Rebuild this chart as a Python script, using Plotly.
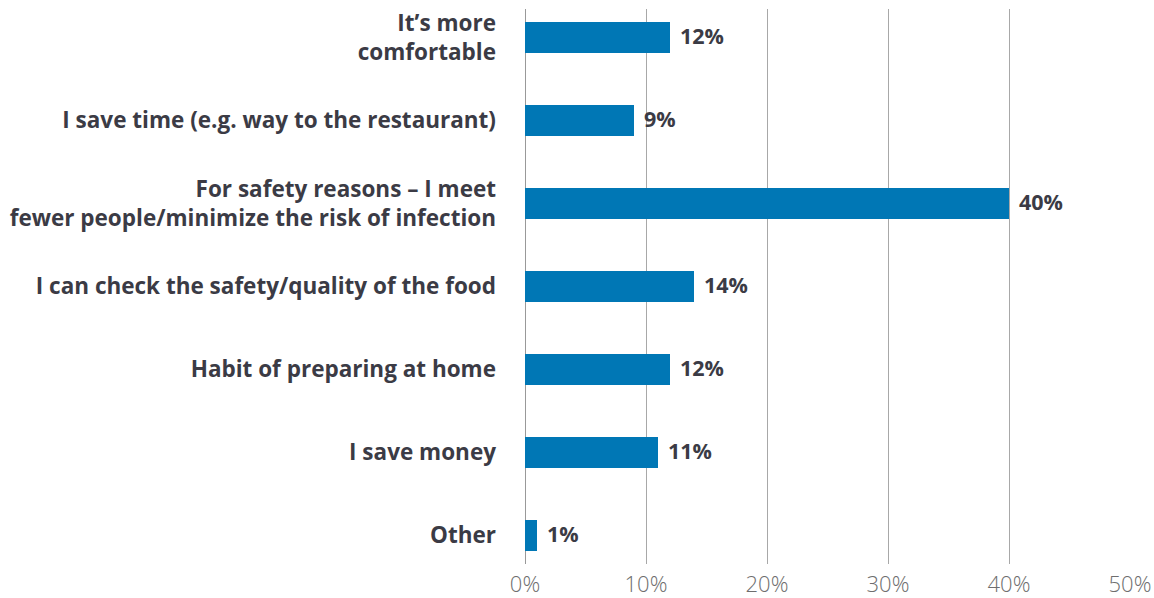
import plotly.graph_objects as go

# Survey reasons for cooking at home instead of ordering / eating out
categories = [
    "It’s more<br>comfortable",
    "I save time (e.g. way to the restaurant)",
    "For safety reasons – I meet<br>fewer people/minimize the risk of infection",
    "I can check the safety/quality of the food",
    "Habit of preparing at home",
    "I save money",
    "Other",
]
shares = [12, 9, 40, 14, 12, 11, 1]
x_ticks = [0, 10, 20, 30, 40, 50]
x_tick_labels = ["0%", "10%", "20%", "30%", "40%", "50%"]

label_color = "#3b3b45"
bar_color = "#0077B5"
grid_color = "#a8a8a8"

fig = go.Figure(
    go.Bar(
        x=shares,
        y=categories,
        orientation="h",
        width=0.373,
        marker=dict(color=bar_color, line=dict(width=0)),
        hoverinfo="skip",
    )
)

# value labels just to the right of each bar end
for cat, v in zip(categories, shares):
    fig.add_annotation(
        x=v,
        y=cat,
        text=f"{v}%",
        showarrow=False,
        xanchor="left",
        yanchor="middle",
        xshift=8,
        yshift=2,
        font=dict(family="Open Sans", size=21.5, color=label_color, weight="bold"),
    )

fig.update_layout(
    width=1154,
    height=598,
    margin=dict(l=525, r=24, t=9, b=34),
    paper_bgcolor="white",
    plot_bgcolor="white",
    showlegend=False,
    bargap=0,
    font=dict(family="Open Sans", color=label_color),
)

fig.update_xaxes(
    range=[0, 50],
    tickvals=x_ticks,
    ticktext=x_tick_labels,
    showgrid=True,
    gridcolor=grid_color,
    gridwidth=1,
    zeroline=True,
    zerolinecolor="#999999",
    zerolinewidth=1,
    showline=False,
    ticks="",
    ticklabelstandoff=5,
    tickfont=dict(family="Open Sans", size=22, color="#6e6e6e", weight=300),
    automargin=False,
    fixedrange=True,
)

fig.update_yaxes(
    categoryorder="array",
    categoryarray=categories,
    autorange=False,
    range=[len(categories) - 1 + 0.343, -0.343],
    showgrid=False,
    showline=False,
    ticks="",
    ticklabelstandoff=28,
    tickfont=dict(family="Open Sans", size=22.5, color=label_color, weight="bold"),
    automargin=False,
    fixedrange=True,
)

fig.write_html("out.html")
